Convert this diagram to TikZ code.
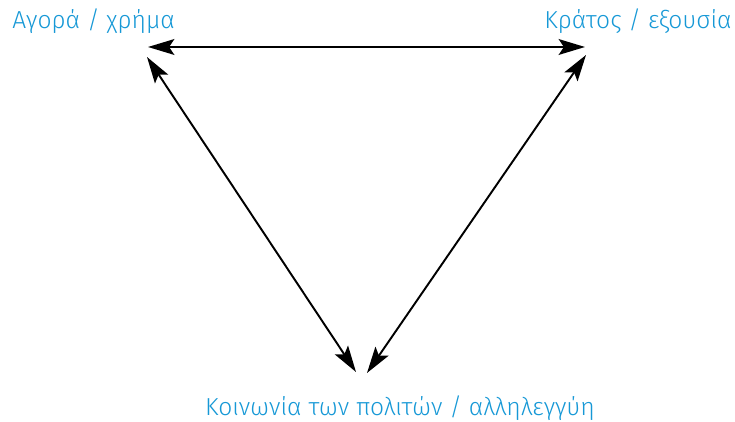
\documentclass[tikz,border=0pt]{standalone}
\usepackage{fontspec}
\setmainfont{Fira Sans}[UprightFont=* Light]
\usetikzlibrary{arrows.meta}
\definecolor{pole}{RGB}{22,152,214}
\tikzset{
  label/.style={text=pole, font=\fontsize{14}{16}\selectfont, inner sep=0pt},
  link/.style={{Stealth[length=15pt,width=9pt,inset=3pt]}-{Stealth[length=15pt,width=9pt,inset=3pt]}, line width=1.1pt}
}
\begin{document}
\begin{tikzpicture}[x=0.02cm, y=-0.02cm]
  \useasboundingbox (0,0) rectangle (735,422);
  % the three poles
  \node[label, anchor=base west] (agora) at (12,29) {Αγορά / χρήμα};
  \node[label, anchor=base east] (kratos) at (732,29) {Κράτος / εξουσία};
  \node[label, anchor=base] (koinonia) at (400,416) {Κοινωνία των πολιτών / αλληλεγγύη};

  % arrow tips
  \coordinate (agora-h) at (148,47);
  \coordinate (kratos-h) at (585,47);
  \coordinate (agora-d) at (147,57);
  \coordinate (kratos-d) at (586,55);
  \coordinate (koinonia-l) at (356,372);
  \coordinate (koinonia-r) at (367,373);

  \draw[link] (agora-h) -- (kratos-h);
  \draw[link] (agora-d) -- (koinonia-l);
  \draw[link] (kratos-d) -- (koinonia-r);
\end{tikzpicture}
\end{document}
